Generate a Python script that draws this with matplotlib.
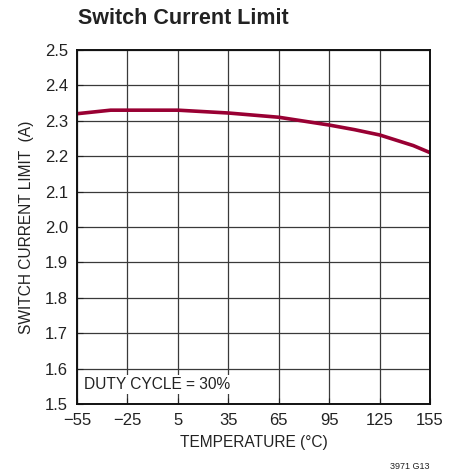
import matplotlib.pyplot as plt

temp = [-55, -35, 5, 35, 65, 95, 110, 125, 145, 155]
ilim = [2.32, 2.33, 2.33, 2.322, 2.31, 2.288, 2.275, 2.26, 2.23, 2.21]

xticks = [-55, -25, 5, 35, 65, 95, 125, 155]
xlabels = ['\u221255', '\u221225', '5', '35', '65', '95', '125', '155']
yticks = [1.5, 1.6, 1.7, 1.8, 1.9, 2.0, 2.1, 2.2, 2.3, 2.4, 2.5]

plt.rcParams['font.family'] = ['Liberation Sans', 'DejaVu Sans']

fig = plt.figure(figsize=(4.59, 4.73), dpi=100)
ax = fig.add_axes([0.1678, 0.1459, 0.7692, 0.7484])

ax.plot(temp, ilim, color='#990033', lw=2.6, solid_capstyle='butt')

ax.set_xlim(-55, 155)
ax.set_ylim(1.5, 2.5)
ax.set_xticks(xticks)
ax.set_xticklabels(xlabels)
ax.set_yticks(yticks)
ax.set_yticklabels(['%.1f' % v for v in yticks])
ax.grid(True, color='#3a3a3a', lw=0.9)
ax.tick_params(direction='in', length=4, labelsize=12, colors='#222222', pad=6.5)
for s in ax.spines.values():
    s.set_linewidth(1.4)
    s.set_color('#111111')

ax.set_xlabel('TEMPERATURE (\u00b0C)', fontsize=11.2, color='#222222', labelpad=5)
ax.set_ylabel('SWITCH CURRENT LIMIT  (A)', fontsize=11.2, color='#222222', labelpad=8)

ax.text(0.02, 0.035, 'DUTY CYCLE = 30%', transform=ax.transAxes, fontsize=11.2,
        color='#222222', ha='left', va='bottom',
        bbox=dict(facecolor='white', edgecolor='none', pad=1.5))

fig.text(78 / 459, 1 - 19 / 473, 'Switch Current Limit', fontsize=15.5,
         fontweight='bold', color='#222222', ha='left', va='center')
fig.text(430 / 459, 1 - 466 / 473, '3971 G13', fontsize=6.5,
         color='#222222', ha='right', va='center')

fig.savefig('out.png', dpi=100)
